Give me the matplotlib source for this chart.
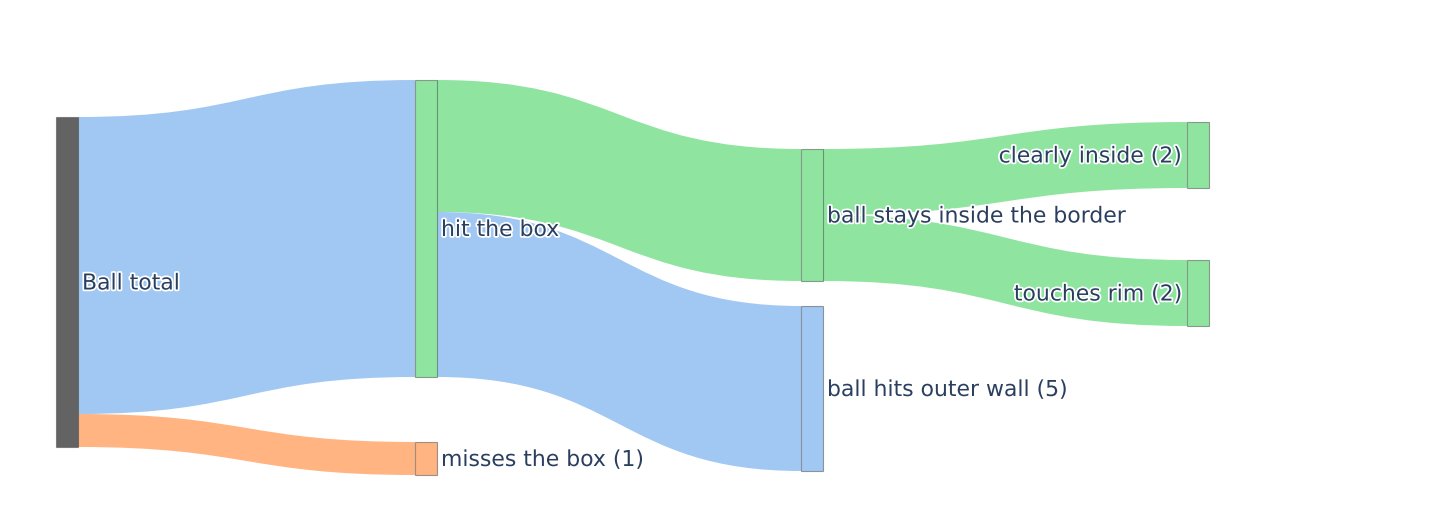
import numpy as np
import matplotlib.pyplot as plt
import matplotlib.patheffects as pe
from matplotlib.path import Path
from matplotlib.patches import PathPatch, Rectangle

# Sankey data
labels = ["Ball total", "hit the box", "misses the box (1)",
          "ball stays inside the border", "ball hits outer wall (5)",
          "clearly inside (2)", "touches rim (2)"]
link_source = [0, 0, 1, 1, 3, 3]
link_target = [1, 2, 3, 4, 5, 6]
link_value = [9, 1, 4, 5, 2, 2]

GREEN = "#8fe5a0"
BLUE = "#a1c8f3"
ORANGE = "#ffb482"
node_colors = ["#636363", GREEN, ORANGE, GREEN, BLUE, GREEN, GREEN]
link_colors = [BLUE, ORANGE, GREEN, BLUE, GREEN, GREEN]

# layout (pixels)
W, H = 1432, 525
node_x = [56, 415, 415, 801, 801, 1187, 1187]
node_top = [117, 80, 442, 149, 306, 122, 260]
node_w = 22
px_per_unit = 33.0

n = len(labels)
inflow = np.zeros(n)
outflow = np.zeros(n)
for s, t, v in zip(link_source, link_target, link_value):
    outflow[s] += v
    inflow[t] += v
node_val = np.maximum(inflow, outflow)
node_h = node_val * px_per_unit

fig = plt.figure(figsize=(W / 100, H / 100), dpi=100)
ax = fig.add_axes([0, 0, 1, 1])
ax.set_xlim(0, W)
ax.set_ylim(H, 0)
ax.axis("off")


def bezier_band(x0, y0a, y0b, x1, y1a, y1b):
    xm = (x0 + x1) / 2
    verts = [(x0, y0a), (xm, y0a), (xm, y1a), (x1, y1a),
             (x1, y1b), (xm, y1b), (xm, y0b), (x0, y0b), (x0, y0a)]
    codes = [Path.MOVETO, Path.CURVE4, Path.CURVE4, Path.CURVE4,
             Path.LINETO, Path.CURVE4, Path.CURVE4, Path.CURVE4, Path.CLOSEPOLY]
    return Path(verts, codes)


# links
out_off = np.zeros(n)
in_off = np.zeros(n)
for s, t, v, c in zip(link_source, link_target, link_value, link_colors):
    h = v * px_per_unit
    y0 = node_top[s] + out_off[s]
    y1 = node_top[t] + in_off[t]
    out_off[s] += h
    in_off[t] += h
    path = bezier_band(node_x[s] + node_w, y0, y0 + h, node_x[t], y1, y1 + h)
    ax.add_patch(PathPatch(path, facecolor=c, edgecolor="none", zorder=1))

# nodes and labels
halo = [pe.withStroke(linewidth=2.5, foreground="white")]
last_col = max(node_x)
for i in range(n):
    ax.add_patch(Rectangle((node_x[i], node_top[i]), node_w, node_h[i],
                           facecolor=node_colors[i],
                           edgecolor=(0.27, 0.27, 0.27, 0.5), linewidth=0.8,
                           zorder=2))
    yc = node_top[i] + node_h[i] / 2 + 1.5
    if node_x[i] == last_col:
        ax.text(node_x[i] - 4, yc, labels[i], ha="right", va="center",
                fontsize=15.8, color="#2a3f5f", path_effects=halo, zorder=3)
    else:
        ax.text(node_x[i] + node_w + 4, yc, labels[i], ha="left", va="center",
                fontsize=15.8, color="#2a3f5f", path_effects=halo, zorder=3)

fig.savefig("out.png", dpi=100)
